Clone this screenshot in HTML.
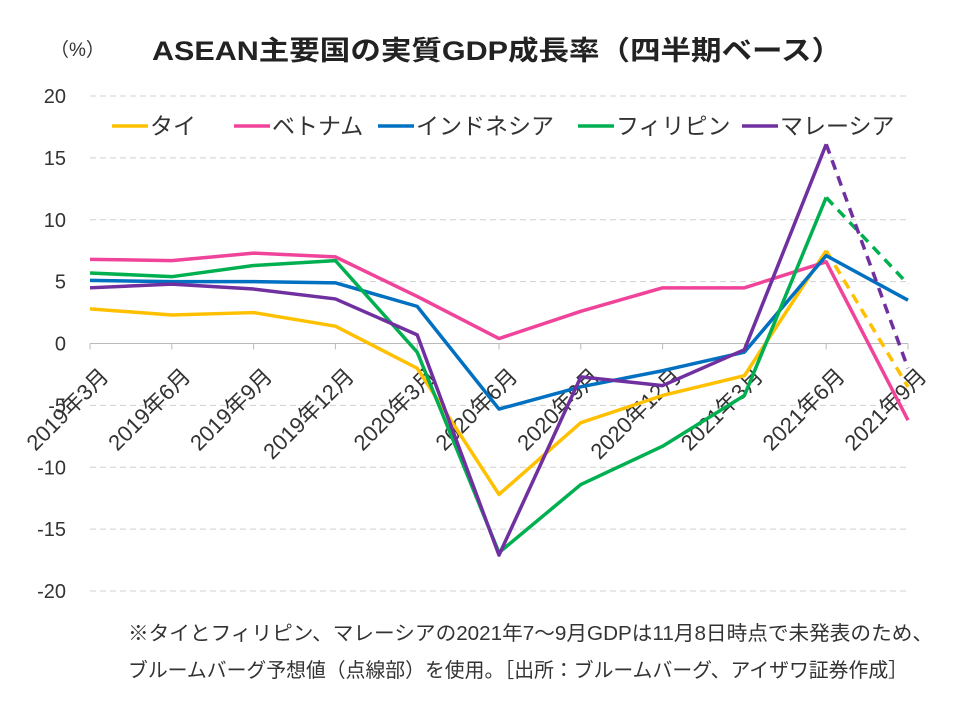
<!DOCTYPE html>
<html><head><meta charset="utf-8"><style>
body{margin:0;background:#fff;}
svg text{font-family:"Liberation Sans","Noto Sans CJK JP",sans-serif;}
</style></head><body>
<svg id="chart" width="960" height="704" xmlns="http://www.w3.org/2000/svg">
<rect width="960" height="704" fill="#fff"/>
<text x="497" y="60" font-size="27" font-weight="bold" text-anchor="middle" fill="#222" textLength="690" lengthAdjust="spacingAndGlyphs">ASEAN主要国の実質GDP成長率（四半期ベース）</text>
<text x="50" y="56" font-size="19" fill="#333">（%）</text>
<g id="grid"></g><g id="yticks"></g><g id="xlabels"></g><g id="series"></g><g id="legend"></g>
<text x="128" y="640" font-size="20" fill="#333" textLength="805" lengthAdjust="spacingAndGlyphs">※タイとフィリピン、マレーシアの2021年7～9月GDPは11月8日時点で未発表のため、</text>
<text x="128" y="677" font-size="20" fill="#333" textLength="780" lengthAdjust="spacingAndGlyphs">ブルームバーグ予想値（点線部）を使用。［出所：ブルームバーグ、アイザワ証券作成］</text>
</svg>
<script>
const categories=["2019年3月","2019年6月","2019年9月","2019年12月","2020年3月","2020年6月","2020年9月","2020年12月","2021年3月","2021年6月","2021年9月"];
const yTicks=[20,15,10,5,0,-5,-10,-15,-20];
const seriesNames=["タイ","ベトナム","インドネシア","フィリピン","マレーシア"];
const thai=[2.8,2.3,2.5,1.4,-2.0,-12.2,-6.4,-4.2,-2.6,7.5,-3.5];
const vietnam=[6.8,6.7,7.3,7.0,3.8,0.4,2.6,4.5,4.5,6.6,-6.2];
const indonesia=[5.1,5.0,5.0,4.9,3.0,-5.3,-3.5,-2.2,-0.7,7.1,3.5];
const philippines=[5.7,5.4,6.3,6.7,-0.7,-16.9,-11.4,-8.3,-4.2,11.8,4.8];
const malaysia=[4.5,4.8,4.4,3.6,0.7,-17.1,-2.7,-3.4,-0.5,16.1,-2.0];
const forecastLast=[true,false,false,true,true];
const colors=["#FFC000","#F0449A","#0070C0","#00B050","#7030A0"];
const allSeries=[thai,vietnam,indonesia,philippines,malaysia];
const NS="http://www.w3.org/2000/svg";
const x0=90,x1=908,yTop=96,yBot=591;
const xs=i=>x0+(x1-x0)*i/(categories.length-1);
const ys=v=>yTop+(20-v)*(yBot-yTop)/40;
function mk(t,a,p){const e=document.createElementNS(NS,t);for(const k in a)e.setAttribute(k,a[k]);p.appendChild(e);return e;}
const grid=document.getElementById('grid'),yt=document.getElementById('yticks');
yTicks.forEach(v=>{
 const l=mk('line',{x1:x0,x2:x1,y1:ys(v),y2:ys(v),stroke:v===0?'#bbb':'#d0d0d0','stroke-dasharray':v===0?'':'6,4','stroke-width':1},grid);
 
 
 const t=mk('text',{x:66,y:ys(v)+7,'font-size':20,'text-anchor':'end',fill:'#333'},yt);
 t.textContent=v;
 
 
});
categories.forEach((c,i)=>{
 const tk=mk('line',{x1:xs(i),x2:xs(i),y1:ys(0),y2:ys(0)+6,stroke:'#bbb'},grid);
 
 
 const x=xs(i)+20,y=ys(0)+34;
 const t=mk('text',{x:x,y:y,'font-size':22,'text-anchor':'end',fill:'#333',transform:`rotate(-45 ${x} ${y})`},document.getElementById('xlabels'));
 t.textContent=c;
 
 
});
const sg=document.getElementById('series');
allSeries.forEach((s,k)=>{
 const n=forecastLast[k]?s.length-1:s.length;
 let d='';for(let i=0;i<n;i++)d+=(i?'L':'M')+xs(i)+','+ys(s[i]);
 const p=mk('path',{d:d,fill:'none',stroke:colors[k],'stroke-width':3.5,'stroke-linejoin':'round'},sg);
 
 
 if(forecastLast[k]){const i=s.length-1;
  const q=mk('path',{d:`M${xs(i-1)},${ys(s[i-1])}L${xs(i)},${ys(s[i])}`,fill:'none',stroke:colors[k],'stroke-width':3.5,'stroke-dasharray':'10,7'},sg);
  
  }
});
const lg=document.getElementById('legend');
const lx=[112,234,378,578,742];
seriesNames.forEach((nm,k)=>{
 const l=mk('line',{x1:lx[k],x2:lx[k]+36,y1:126,y2:126,stroke:colors[k],'stroke-width':3.5},lg);
 
 
 const t=mk('text',{x:lx[k]+38,y:134,'font-size':23,fill:'#333'},lg);
 t.textContent=nm;
 
 
});
</script>
</body></html>
